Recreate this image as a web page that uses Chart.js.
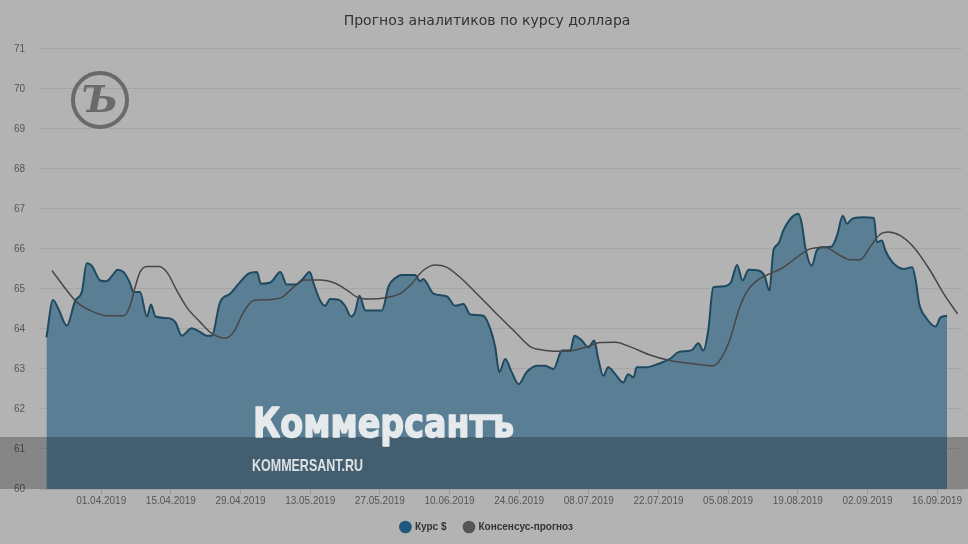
<!DOCTYPE html>
<html>
<head>
<meta charset="utf-8">
<script src="https://cdn.jsdelivr.net/npm/chart.js@4/dist/chart.umd.min.js"></script>
<style>
  html, body { margin: 0; padding: 0; background: #b3b3b3; }
  #wrap { width: 968px; height: 544px; }
</style>
</head>
<body>
<div id="wrap"><canvas id="chartKurs"></canvas></div>
<script>
// Дни считаются от 01.04.2019 (0 = 01.04.2019)
const tickDays = [0, 14, 28, 42, 56, 70, 84, 98, 112, 126, 140, 154, 168];
const tickLabels = ['01.04.2019', '15.04.2019', '29.04.2019', '13.05.2019', '27.05.2019', '10.06.2019',
  '24.06.2019', '08.07.2019', '22.07.2019', '05.08.2019', '19.08.2019', '02.09.2019', '16.09.2019'];

// Курс $
const kursDays = [-11, -9.7, -8.6, -6.9, -5.2, -3.9, -2.9, -1.9, -0.2, 1.1, 2.2, 3.3, 4.5, 5.7, 6.5, 7.8,
  9.2, 10, 10.9, 13.5, 14.9, 16.2, 18.2, 19.9, 21.2, 22.2, 23.9, 25.9, 27.9, 29.6, 31.3, 32.1,
  34, 36, 37.3, 39, 40.3, 41.9, 42.7, 44, 45, 46, 47.7, 49, 50.2, 51, 51.9, 53.1, 56.4, 57.8,
  59.1, 60.4, 63.1, 64.1, 64.7, 66.8, 69.5, 71.1, 72.8, 74.2, 76.8, 78.2, 79.2, 80, 81.2, 82.5,
  83.9, 85.5, 87.6, 89.2, 90.9, 92.6, 94.3, 95.1, 96.6, 97.9, 99.1, 99.9, 100.9, 101.9, 103.3,
  104.9, 105.9, 107, 107.6, 109.6, 112, 114.3, 116, 118.7, 120, 121, 122, 123, 124.7, 126.5,
  127.8, 128.9, 130.1, 132.1, 133.3, 134.3, 135.1, 136.1, 137.1, 138.8, 140.1, 140.8, 141.5,
  142.8, 143.8, 144.8, 146.8, 148, 149, 149.9, 150.9, 152.9, 155.3, 155.9, 156.9, 157.6, 159,
  161.3, 163, 163.7, 164.4, 165.7, 167.7, 168.7, 170];
const kursValues = [63.79, 64.72, 64.50, 64.08, 64.71, 64.92, 65.64, 65.58, 65.21, 65.19, 65.33, 65.48,
  65.42, 65.17, 64.92, 64.92, 64.31, 64.61, 64.31, 64.27, 64.17, 63.83, 64.02, 63.92, 63.83, 63.83,
  64.67, 64.88, 65.17, 65.38, 65.42, 65.13, 65.16, 65.42, 65.11, 65.11, 65.22, 65.42, 65.13, 64.71,
  64.58, 64.75, 64.73, 64.58, 64.31, 64.42, 64.83, 64.46, 64.46, 65.08, 65.27, 65.35, 65.35, 65.19,
  65.25, 64.88, 64.81, 64.58, 64.62, 64.36, 64.33, 64.00, 63.54, 62.92, 63.25, 62.92, 62.62, 62.92,
  63.08, 63.08, 63.00, 63.46, 63.47, 63.83, 63.71, 63.54, 63.71, 63.25, 62.83, 63.04, 62.87, 62.66,
  62.87, 62.79, 63.04, 63.04, 63.13, 63.25, 63.42, 63.47, 63.64, 63.46, 63.96, 65.04, 65.06, 65.15,
  65.60, 65.21, 65.48, 65.46, 65.33, 64.96, 65.96, 66.13, 66.46, 66.79, 66.88, 66.63, 66.04, 65.58,
  65.96, 66.04, 66.06, 66.38, 66.83, 66.63, 66.75, 66.79, 66.77, 66.17, 66.21, 65.96, 65.67, 65.50,
  65.54, 65.21, 64.63, 64.29, 64.06, 64.29, 64.33];

// Консенсус-прогноз
const consensusDays = [-9.9, -6.9, -4.9, -2.2, 1.1, 4.5, 5.7, 6.8, 7.8, 9.2, 11.5, 13.2, 15.2, 17.2, 19.9,
  22.2, 24.9, 26.6, 28.6, 30.6, 33, 36.3, 38.6, 41, 44, 47, 49.4, 51.7, 54.1, 57.1, 60.1, 62.4,
  64.7, 67.1, 69.5, 72.1, 75.5, 78.8, 81.9, 82.9, 86.2, 88.9, 93.6, 97.3, 100.3, 103.3, 106.6, 110,
  114.3, 119, 123, 124.7, 126.4, 128.1, 129.7, 131.8, 134.4, 137.1, 139.8, 142.5, 145.5, 147.9,
  150.5, 152.5, 154.5, 156.5, 158.2, 160.6, 163.3, 166.6, 169.3, 172.1];
const consensusValues = [65.46, 64.96, 64.67, 64.46, 64.33, 64.33, 64.54, 65.04, 65.42, 65.56, 65.56,
  65.42, 64.96, 64.54, 64.17, 63.89, 63.77, 63.92, 64.42, 64.71, 64.73, 64.79, 65.04, 65.22, 65.22,
  65.14, 64.97, 64.78, 64.75, 64.78, 64.88, 65.13, 65.46, 65.60, 65.54, 65.29, 64.88, 64.46, 64.08,
  63.96, 63.56, 63.47, 63.44, 63.54, 63.66, 63.67, 63.54, 63.36, 63.21, 63.13, 63.08, 63.29, 63.75,
  64.46, 64.92, 65.21, 65.38, 65.54, 65.79, 66.00, 66.04, 65.88, 65.73, 65.73, 66.04, 66.36, 66.42,
  66.33, 66.04, 65.46, 64.88, 64.38];

const yTicks = [60, 61, 62, 63, 64, 65, 66, 67, 68, 69, 70, 71];

const toPoints = (xs, ys) => xs.map((x, i) => ({ x: x, y: ys[i] }));

// Логотип и водяной знак поверх графика
const overlayPlugin = {
  id: 'overlay',
  afterDraw(chart) {
    const c = chart.ctx;
    c.save();
    // логотип "Ъ" в круге
    c.strokeStyle = '#6a6a6a';
    c.lineWidth = 4;
    c.beginPath();
    c.arc(100, 100, 27, 0, Math.PI * 2);
    c.stroke();
    c.fillStyle = '#6a6a6a';
    c.font = 'italic bold 38px "DejaVu Serif"';
    c.textAlign = 'center';
    c.textBaseline = 'middle';
    c.fillText('Ъ', 100, 102);

    // тёмная полоса
    c.fillStyle = 'rgba(0, 0, 0, 0.25)';
    c.fillRect(0, 437, chart.width, 52);

    // Коммерсантъ
    c.textAlign = 'left';
    c.textBaseline = 'alphabetic';
    c.fillStyle = '#e6eaed';
    c.strokeStyle = '#e6eaed';
    c.lineWidth = 1.5;
    c.lineJoin = 'round';
    c.font = 'bold 40px "DejaVu Sans"';
    let w = c.measureText('Коммерсантъ').width;
    c.save();
    c.translate(253, 437);
    c.scale(261 / w, 1);
    c.fillText('Коммерсантъ', 0, 0);
    c.strokeText('Коммерсантъ', 0, 0);
    c.restore();

    c.fillStyle = '#dde2e5';
    c.font = 'bold 17px "Liberation Sans"';
    w = c.measureText('KOMMERSANT.RU').width;
    c.save();
    c.translate(252, 471);
    c.scale(111 / w, 1);
    c.fillText('KOMMERSANT.RU', 0, 0);
    c.restore();
    c.restore();
  }
};

const ctx = document.getElementById('chartKurs').getContext('2d');

const config = {
  type: 'line',
  data: {
    datasets: [
      {
        label: 'Курс $',
        data: toPoints(kursDays, kursValues),
        borderColor: '#1d4a61',
        backgroundColor: '#5a7e93',
        borderWidth: 2,
        fill: 'start',
        pointRadius: 0,
        cubicInterpolationMode: 'monotone',
        order: 2
      },
      {
        label: 'Консенсус-прогноз',
        data: toPoints(consensusDays, consensusValues),
        borderColor: '#474747',
        backgroundColor: '#474747',
        borderWidth: 1.5,
        fill: false,
        pointRadius: 0,
        cubicInterpolationMode: 'monotone',
        order: 1
      }
    ]
  },
  options: {
    responsive: true,
    maintainAspectRatio: false,
    animation: false,
    layout: { padding: { left: 12, right: 6, top: 0, bottom: 2 } },
    scales: {
      x: {
        type: 'linear',
        min: -12.3,
        max: 173,
        afterBuildTicks: (scale) => { scale.ticks = tickDays.map(v => ({ value: v })); },
        afterFit: (scale) => { scale.height = 15; },
        ticks: {
          autoSkip: false,
          maxRotation: 0,
          color: '#555',
          font: { family: '"Liberation Sans"', size: 10, lineHeight: 1 },
          padding: 1,
          callback: (v, i) => tickLabels[i]
        },
        grid: { drawOnChartArea: false, drawTicks: true, tickLength: 6, color: '#999' },
        border: { display: true, color: '#a0a0a0' }
      },
      y: {
        min: 60,
        max: 71,
        clip: false,
        afterBuildTicks: (scale) => { scale.ticks = yTicks.map(v => ({ value: v })); },
        afterFit: (scale) => { scale.width = 28; },
        ticks: {
          color: '#555',
          font: { family: '"Liberation Sans"', size: 10 },
          padding: 15
        },
        grid: { color: '#a5a5a5', drawTicks: false },
        border: { display: false }
      }
    },
    plugins: {
      title: {
        display: true,
        text: 'Прогноз аналитиков по курсу доллара',
        color: '#333',
        font: { family: '"DejaVu Sans"', size: 14, weight: 'normal' },
        padding: { top: 13, bottom: 19 }
      },
      legend: {
        position: 'bottom',
        labels: {
          usePointStyle: true,
          pointStyle: 'circle',
          boxWidth: 9,
          boxHeight: 9,
          padding: 18,
          color: '#333',
          font: { family: '"Liberation Sans"', size: 10, weight: 'bold' },
          sort: (a, b) => a.datasetIndex - b.datasetIndex,
          generateLabels: (chart) => {
            const items = Chart.defaults.plugins.legend.labels.generateLabels(chart);
            const colors = ['#1f5a7e', '#555555'];
            items.forEach(it => {
              it.fillStyle = colors[it.datasetIndex];
              it.strokeStyle = colors[it.datasetIndex];
              it.lineWidth = 0;
            });
            return items;
          }
        }
      },
      tooltip: { enabled: false }
    }
  },
  plugins: [overlayPlugin]
};

const chartKurs = new Chart(ctx, config);
</script>
</body>
</html>
